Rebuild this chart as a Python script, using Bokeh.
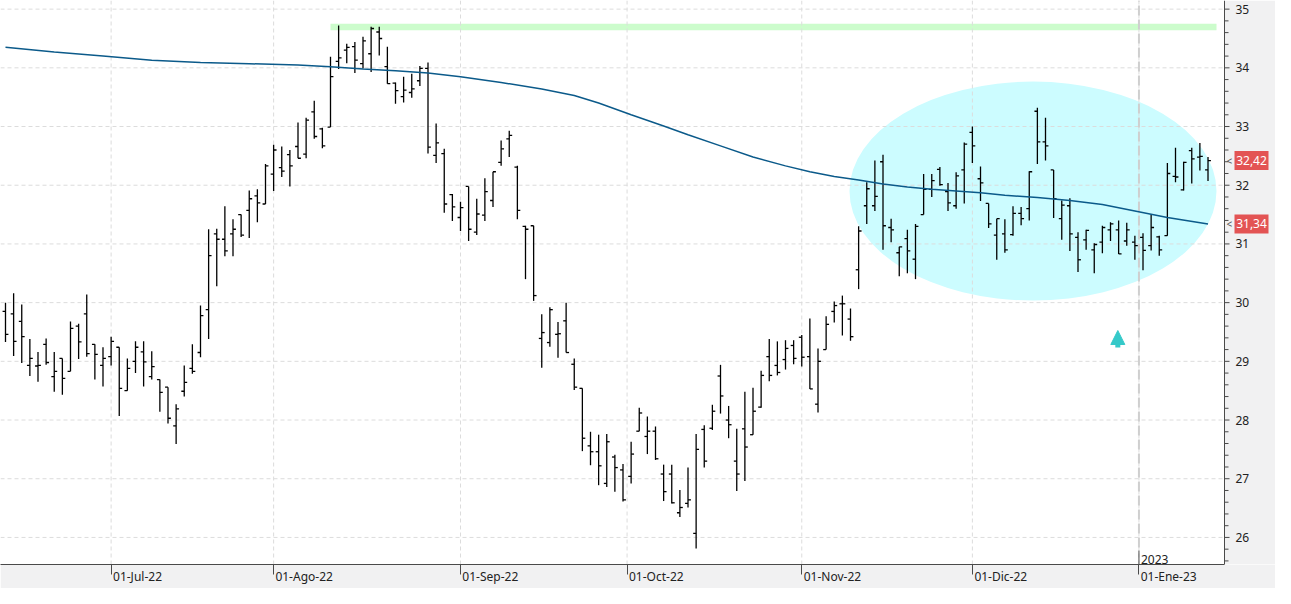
from bokeh.plotting import figure
from bokeh.models import Range1d, FixedTicker, Arrow, NormalHead, Label
from bokeh.embed import file_html
from bokeh.resources import INLINE
from bokeh.core.properties import value

# ---------------- data ----------------
OPEN = [29.85, 29.81, 29.68, 28.93, 28.92, 29.29, 28.74, 29.05, 28.83, 29.60,
        29.81, 29.29, 28.93, 29.08, 29.24, 28.50, 29.00, 29.16, 28.74, 28.69,
        28.56, 27.90, 28.49, 28.88, 29.15, 29.88, 31.17, 31.08, 31.17, 31.50,
        31.57, 31.82, 31.68, 32.19, 32.30, 32.52, 32.66, 32.53, 33.25, 32.96,
        32.99, 34.11, 34.30, 34.36, 34.07, 34.24, 34.61, 34.02, 33.74, 33.51,
        33.58, 33.78, 33.99, 32.51, 32.54, 31.84, 31.45, 31.98, 31.20, 31.49,
        31.74, 32.39, 32.79, 32.31, 31.30, 31.31, 29.39, 29.32, 29.46, 29.69,
        28.95, 28.54, 27.56, 27.46, 26.92, 27.37, 27.15, 27.04, 27.81, 27.72,
        27.81, 27.08, 27.08, 26.42, 26.58, 26.07, 27.84, 27.86, 28.75, 28.00,
        27.30, 27.85, 27.75, 28.22, 29.08, 28.93, 29.03, 29.27, 29.41, 29.08,
        28.27, 29.20, 29.85, 29.98, 29.72, 30.56, 31.65, 31.65, 32.40, 31.28,
        30.85, 31.09, 30.74, 31.50, 31.93, 32.27, 31.89, 31.65, 32.26, 32.90,
        32.11, 31.69, 31.15, 31.17, 31.16, 31.52, 31.60, 33.26, 32.74, 32.26,
        31.43, 31.65, 31.11, 31.07, 30.90, 31.03, 31.24, 31.24, 31.05, 31.03,
        31.11, 30.97, 31.12, 31.14, 32.15, 31.92, 32.59, 32.48, 32.26]
HIGH = [30.00, 30.16, 29.97, 29.38, 29.16, 29.39, 29.16, 29.05, 29.68, 29.64,
        30.14, 29.29, 29.24, 29.42, 29.24, 29.05, 29.34, 29.34, 29.17, 28.69,
        28.56, 28.27, 28.93, 29.29, 29.95, 31.25, 31.26, 31.64, 31.42, 31.50,
        31.91, 31.93, 32.36, 32.69, 32.66, 32.60, 33.07, 33.15, 33.44, 32.98,
        34.19, 34.72, 34.41, 34.44, 34.53, 34.70, 34.70, 34.36, 33.75, 33.85,
        33.90, 34.03, 34.09, 33.05, 32.62, 31.85, 31.72, 31.98, 31.77, 32.12,
        32.23, 32.76, 32.93, 32.33, 31.31, 31.31, 29.80, 29.92, 29.67, 30.00,
        29.05, 28.54, 27.80, 27.75, 27.76, 27.41, 27.25, 27.63, 28.21, 28.06,
        27.89, 27.24, 27.24, 26.81, 27.19, 27.76, 27.91, 28.26, 28.94, 28.24,
        27.85, 28.48, 28.55, 28.84, 29.38, 29.34, 29.36, 29.36, 29.45, 29.73,
        29.22, 29.77, 30.02, 30.12, 29.90, 31.30, 32.05, 32.42, 32.52, 31.43,
        30.95, 31.24, 31.34, 32.19, 32.19, 32.31, 32.04, 32.22, 32.73, 33.00,
        32.32, 31.69, 31.43, 31.42, 31.64, 31.63, 32.24, 33.32, 33.15, 32.26,
        31.74, 31.78, 31.20, 31.24, 31.01, 31.31, 31.37, 31.40, 31.36, 31.14,
        31.18, 31.50, 31.14, 32.38, 32.64, 32.40, 32.64, 32.72, 32.48]
LOW = [29.33, 29.09, 28.97, 28.75, 28.65, 28.94, 28.48, 28.43, 28.83, 29.04,
       29.08, 28.69, 28.57, 28.93, 28.07, 28.50, 28.80, 28.57, 28.69, 28.14,
       27.94, 27.59, 28.40, 28.79, 29.07, 29.38, 30.28, 30.79, 30.79, 31.12,
       31.10, 31.37, 31.68, 31.90, 32.14, 31.98, 32.46, 32.46, 32.79, 32.63,
       32.99, 33.98, 34.08, 33.91, 33.99, 33.93, 34.21, 33.73, 33.39, 33.41,
       33.49, 33.69, 32.54, 32.38, 31.53, 31.39, 31.22, 31.05, 31.15, 31.39,
       31.63, 32.33, 32.48, 31.42, 30.40, 30.03, 28.89, 29.25, 29.06, 29.15,
       28.51, 27.47, 27.23, 26.89, 26.86, 26.78, 26.61, 26.92, 27.81, 27.42,
       27.32, 26.62, 26.58, 26.35, 26.51, 25.81, 27.19, 27.83, 28.11, 27.69,
       26.79, 26.96, 27.75, 28.21, 28.66, 28.76, 28.86, 28.95, 28.91, 28.53,
       28.13, 29.20, 29.66, 29.44, 29.35, 30.23, 31.34, 31.56, 30.90, 31.03,
       30.45, 30.50, 30.40, 31.50, 31.80, 31.99, 31.56, 31.60, 31.69, 32.38,
       31.73, 31.27, 30.73, 30.85, 31.14, 31.32, 31.40, 32.36, 32.42, 31.44,
       31.07, 30.88, 30.52, 30.90, 30.50, 30.84, 31.05, 30.83, 30.97, 30.73,
       30.55, 30.89, 30.80, 31.14, 32.05, 31.91, 32.03, 32.25, 32.07]
CLOSE = [29.46, 29.34, 29.42, 29.05, 28.93, 28.98, 28.83, 28.71, 29.56, 29.33,
         29.13, 29.12, 29.05, 29.34, 28.54, 28.88, 29.24, 28.99, 28.91, 28.47,
         28.03, 28.19, 28.64, 28.83, 29.78, 30.80, 31.08, 30.88, 31.25, 31.15,
         31.77, 31.70, 32.33, 32.60, 32.24, 32.33, 32.46, 33.11, 32.83, 32.67,
         33.85, 34.17, 34.35, 34.13, 34.46, 34.67, 34.50, 33.73, 33.61, 33.62,
         33.64, 33.99, 32.65, 32.72, 31.68, 31.63, 31.62, 31.25, 31.51, 31.89,
         32.23, 32.62, 32.85, 31.57, 31.25, 30.12, 29.49, 29.88, 29.47, 29.15,
         28.56, 27.69, 27.46, 27.22, 27.63, 27.19, 26.64, 27.42, 28.12, 27.81,
         27.34, 26.78, 26.59, 26.51, 26.64, 27.50, 27.30, 28.15, 28.41, 27.92,
         27.08, 27.54, 28.15, 28.76, 28.76, 28.81, 29.22, 29.05, 29.07, 28.53,
         29.00, 29.63, 29.95, 29.98, 29.42, 31.22, 31.94, 31.81, 31.31, 31.24,
         30.95, 30.88, 31.30, 31.93, 32.08, 32.01, 31.70, 32.16, 32.70, 32.67,
         32.04, 31.34, 31.43, 30.90, 31.52, 31.43, 32.23, 32.74, 32.67, 31.77,
         31.66, 31.17, 30.73, 31.23, 30.99, 31.28, 31.34, 30.83, 31.24, 30.97,
         30.89, 31.28, 30.90, 32.20, 32.14, 32.39, 32.45, 32.49, 32.42]

# moving average (read at these bar numbers)
MA_BAR = [0, 6, 12, 18, 24, 30, 36, 40, 44, 48, 52, 56, 61, 66, 70, 73, 77, 81,
          84, 88, 92, 96, 99, 102, 105, 108, 111, 114, 117, 120, 123, 127, 131,
          135, 139, 143, 148]
MA_VAL = [34.35, 34.27, 34.20, 34.13, 34.09, 34.07, 34.05, 34.02, 33.98, 33.95,
          33.91, 33.85, 33.75, 33.64, 33.53, 33.40, 33.20, 33.01, 32.86, 32.67,
          32.48, 32.33, 32.23, 32.15, 32.09, 32.02, 31.97, 31.93, 31.90, 31.87,
          31.83, 31.79, 31.74, 31.67, 31.56, 31.45, 31.34]

MONTH_POS = [13, 33, 56, 76.5, 98, 119, 139.5]
MONTH_LABELS = ["01-Jul-22", "01-Ago-22", "01-Sep-22", "01-Oct-22",
                "01-Nov-22", "01-Dic-22", "01-Ene-23"]
YEAR_POS = 139.5
YEAR_LABEL = "2023"
PRICE_TICKS = [26, 27, 28, 29, 30, 31, 32, 33, 34, 35]
PRICE_TICK_LABELS = ["26", "27", "28", "29", "30", "31", "32", "33", "34", "35"]

RESIST_FROM_BAR = 40
RESIST_LOW, RESIST_HIGH = 34.64, 34.75

LAST_CLOSE_LABEL = "32,42"
LAST_MA_LABEL = "31,34"

# ---------------- layout / styles ----------------
W, H = 1275, 588
BOTTOM = 24                           # height of the date strip
X0, X_AXIS = -0.615, 150.03           # plot area; right scale line at X_AXIS
PX = (X_AXIS - X0) / 1224.0           # data units per screen pixel (x)
X_END = X0 + W * PX                   # includes the right-hand scale panel
PY = 1 / 58.7                         # price units per screen pixel (y)
Y1 = 35.147
Y0 = Y1 - (H - BOTTOM) * PY
FONT = "Noto Sans"
TXT = "#222222"
AX = "#4a4a4a"
PANEL = "#f1f1f2"
GRID = "#dcdcdc"
BAR_COL = "#000000"
MA_COL = "#0b5a8a"
RED = "#e35454"
CYAN = "#35c9c9"

# approximate glyph widths (px, 12px Noto Sans) to left-align the date labels
CW = {"0": 6.9, "1": 6.9, "2": 6.9, "3": 6.9, "-": 3.9, "J": 3.3, "u": 7.0, "l": 3.1,
      "A": 7.8, "g": 6.9, "o": 6.9, "S": 6.4, "e": 6.8, "p": 7.0, "O": 9.0, "c": 5.9,
      "t": 4.2, "N": 9.0, "v": 6.1, "D": 8.4, "i": 3.1, "E": 6.3, "n": 7.0}


def text_w(s):
    return sum(CW.get(ch, 6.5) for ch in s)


n = len(CLOSE)
bars = list(range(n))

p = figure(width=W, height=H, x_range=Range1d(X0, X_END), y_range=Range1d(Y0, Y1),
           y_axis_location=None, output_backend="svg", toolbar_location=None,
           min_border_left=0, min_border_top=0, min_border_right=0,
           min_border_bottom=BOTTOM,
           background_fill_color="white", border_fill_color=PANEL,
           outline_line_color=None)
p.grid.visible = False

# right-hand scale panel
p.quad(left=[X_AXIS], right=[X_END], bottom=[Y0], top=[Y1], fill_color=PANEL, line_color=None)

# highlighted zone (ellipse) and resistance band
p.ellipse(x=[126.46], y=[31.90], width=[45.17], height=[3.73],
          fill_color="#ccfcff", line_color=None)
p.quad(left=[RESIST_FROM_BAR], right=[X_AXIS - 8 * PX], bottom=[RESIST_LOW], top=[RESIST_HIGH],
       fill_color="#ccfccc", line_color=None)

# grid lines (limited to the plot area)
p.segment(x0=[X0] * len(PRICE_TICKS), y0=PRICE_TICKS, x1=[X_AXIS] * len(PRICE_TICKS),
          y1=PRICE_TICKS, line_color=GRID, line_dash="4 3", line_width=1)
p.segment(x0=MONTH_POS, y0=[Y0] * len(MONTH_POS), x1=MONTH_POS, y1=[Y1] * len(MONTH_POS),
          line_color=GRID, line_dash="4 3", line_width=1)

# year separator
p.segment(x0=[YEAR_POS], y0=[Y0 + 17 * PY], x1=[YEAR_POS], y1=[Y1],
          line_color="#cfcfcf", line_width=2, line_dash="10 4")

# OHLC bars
tick = 0.36
p.segment(x0=bars, y0=LOW, x1=bars, y1=HIGH, line_color=BAR_COL, line_width=1.3)
p.segment(x0=[b - tick for b in bars], y0=OPEN, x1=bars, y1=OPEN,
          line_color=BAR_COL, line_width=1.3)
p.segment(x0=bars, y0=CLOSE, x1=[b + tick for b in bars], y1=CLOSE,
          line_color=BAR_COL, line_width=1.3)

# moving average
p.line(x=MA_BAR, y=MA_VAL, line_color=MA_COL, line_width=1.5)

# arrow marker
p.add_layout(Arrow(end=NormalHead(size=14, fill_color=CYAN, line_color=CYAN),
                   x_start=136.9, y_start=29.236, x_end=136.9, y_end=29.525,
                   line_color=CYAN, line_width=5))

# right price scale (axis line, ticks, labels)
p.segment(x0=[X_AXIS], y0=[Y0], x1=[X_AXIS], y1=[Y1], line_color=AX, line_width=1)
p.segment(x0=[X_AXIS] * len(PRICE_TICKS), y0=PRICE_TICKS,
          x1=[X_AXIS + 5 * PX] * len(PRICE_TICKS), y1=PRICE_TICKS, line_color=AX, line_width=1)
minor = [t + k * 0.2 for t in range(25, 36) for k in range(1, 5) if Y0 < t + k * 0.2 < Y1]
p.segment(x0=[X_AXIS] * len(minor), y0=minor, x1=[X_AXIS + 4 * PX] * len(minor), y1=minor,
          line_color=AX, line_width=1)
p.text(x=[X_AXIS + 11 * PX] * len(PRICE_TICKS), y=PRICE_TICKS, text=PRICE_TICK_LABELS,
       text_align="left", text_baseline="middle", text_font=value(FONT),
       text_font_size="12px", text_color=TXT)

# current-value tags
tag_vals = [CLOSE[-1], MA_VAL[-1]]
tag_txt = [LAST_CLOSE_LABEL, LAST_MA_LABEL]
p.text(x=[X_AXIS + 2 * PX] * 2, y=tag_vals, text=["<", "<"], text_align="left",
       text_baseline="middle", text_font=value(FONT), text_font_size="10px",
       text_color="#555555")
p.rect(x=[X_AXIS + 27 * PX] * 2, y=tag_vals, width=34, height=19,
       width_units="screen", height_units="screen", fill_color=RED, line_color=None)
p.text(x=[X_AXIS + 27 * PX] * 2, y=tag_vals, text=tag_txt, text_align="center",
       text_baseline="middle", text_font=value(FONT), text_font_size="12px",
       text_color="white")

# bottom date axis: tick marks at the month starts, labels left-aligned on them
label_centres = [pos + (text_w(lab) / 2 + 2) * PX for pos, lab in zip(MONTH_POS, MONTH_LABELS)]
xa = p.xaxis[0]
xa.ticker = FixedTicker(ticks=label_centres, minor_ticks=MONTH_POS)
xa.major_label_overrides = {c: lab for c, lab in zip(label_centres, MONTH_LABELS)}
xa.bounds = (X0, X_AXIS)
xa.axis_line_color = AX
xa.major_tick_line_color = None
xa.major_tick_in = 0
xa.major_tick_out = 0
xa.minor_tick_line_color = AX
xa.minor_tick_in = 0
xa.minor_tick_out = 10
xa.major_label_standoff = -7
xa.major_label_text_font = FONT
xa.major_label_text_font_size = "12px"
xa.major_label_text_color = TXT

# year marker
p.segment(x0=[YEAR_POS], y0=[Y0], x1=[YEAR_POS], y1=[Y0 + 14 * PY], line_color=AX, line_width=1)
p.add_layout(Label(x=YEAR_POS, y=Y0, x_offset=2, y_offset=1, text=YEAR_LABEL,
                   text_align="left", text_baseline="bottom",
                   text_font=FONT, text_font_size="12px", text_color=TXT))

open("out.html", "w").write(file_html(p, INLINE))
